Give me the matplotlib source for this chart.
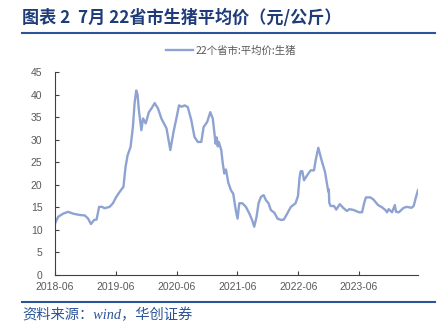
import matplotlib
matplotlib.use("Agg")
import matplotlib.pyplot as plt
import pandas as pd

plt.rcParams['font.family'] = ['Liberation Sans', 'Noto Sans CJK SC']

# 22个省市:平均价:生猪 (元/公斤)
dates = [
    "2018-06-01", "2018-06-20", "2018-07-20", "2018-08-19", "2018-09-18", "2018-10-28",
    "2018-11-27", "2018-12-17", "2019-01-03", "2019-01-22", "2019-02-06", "2019-02-21",
    "2019-03-12", "2019-03-25", "2019-04-25", "2019-05-15", "2019-06-04", "2019-06-24",
    "2019-07-12", "2019-07-17", "2019-07-30", "2019-08-11", "2019-08-29", "2019-09-12",
    "2019-09-22", "2019-10-02", "2019-10-10", "2019-10-18", "2019-11-02", "2019-11-12",
    "2019-11-28", "2019-12-17", "2020-01-03", "2020-01-21", "2020-02-10", "2020-03-01",
    "2020-04-01", "2020-04-13", "2020-04-24", "2020-05-13", "2020-06-01", "2020-06-15",
    "2020-07-01", "2020-07-19", "2020-08-07", "2020-08-28", "2020-09-16", "2020-10-06",
    "2020-10-27", "2020-11-10", "2020-12-01", "2020-12-20", "2021-01-04", "2021-01-21",
    "2021-01-28", "2021-02-03", "2021-02-09", "2021-02-24", "2021-03-04", "2021-03-14",
    "2021-03-24", "2021-04-07", "2021-04-23", "2021-05-07", "2021-05-22", "2021-06-02",
    "2021-06-12", "2021-07-01", "2021-07-22", "2021-08-12", "2021-08-28", "2021-09-10",
    "2021-09-24", "2021-10-06", "2021-10-20", "2021-11-06", "2021-11-19", "2021-12-05",
    "2021-12-19", "2022-01-09", "2022-01-28", "2022-02-18", "2022-03-07", "2022-03-27",
    "2022-04-18", "2022-05-16", "2022-05-31", "2022-06-09", "2022-06-16", "2022-06-26",
    "2022-07-06", "2022-07-25", "2022-08-15", "2022-09-04", "2022-09-14", "2022-09-30",
    "2022-10-20", "2022-11-09", "2022-11-23", "2022-11-29", "2022-12-02", "2022-12-05",
    "2022-12-13", "2023-01-02", "2023-01-16", "2023-02-06", "2023-03-01", "2023-03-21",
    "2023-04-05", "2023-05-01", "2023-06-01", "2023-06-20", "2023-07-03", "2023-07-13",
    "2023-08-09", "2023-08-28", "2023-09-24", "2023-10-18", "2023-11-07", "2023-11-17",
    "2023-11-27", "2023-12-17", "2024-01-03", "2024-01-10", "2024-01-27", "2024-02-25",
    "2024-03-15", "2024-04-12", "2024-04-25", "2024-05-09", "2024-05-21",
]
prices = [
    11.4, 12.9, 13.6, 14.0, 13.6, 13.3,
    13.2, 12.5, 11.3, 12.2, 12.3, 15.1,
    15.1, 14.8, 15.1, 15.9, 17.3, 18.4,
    19.3, 19.5, 24.0, 26.5, 28.4, 32.8,
    38.0, 40.9, 40.0, 36.5, 32.1, 34.7,
    33.6, 36.1, 37.0, 38.1, 36.9, 34.7,
    32.5, 30.0, 27.7, 31.7, 35.0, 37.6,
    37.3, 37.6, 37.2, 34.3, 30.6, 29.5,
    29.5, 32.8, 33.9, 36.1, 34.7, 29.1,
    30.5, 28.5, 29.5, 27.7, 25.0, 22.5,
    23.4, 20.5, 18.8, 18.0, 14.4, 12.5,
    15.9, 15.9, 15.1, 13.6, 12.2, 10.7,
    12.9, 15.9, 17.3, 17.7, 16.6, 15.9,
    14.4, 13.8, 12.5, 12.2, 12.3, 13.6,
    15.1, 15.9, 17.5, 21.5, 23.0, 23.0,
    21.0, 22.1, 23.2, 23.2, 25.4, 28.2,
    25.4, 22.9, 19.9, 18.5, 19.0, 16.0,
    15.3, 15.3, 14.5, 15.7, 14.8, 14.2,
    14.6, 14.4, 13.9, 13.9, 16.0, 17.2,
    17.2, 16.7, 15.5, 15.0, 14.4, 13.9,
    14.6, 13.9, 15.5, 14.0, 13.9, 14.9,
    15.1, 14.9, 15.3, 17.3, 18.8,
]
tick_labels = ["2018-06", "2019-06", "2020-06", "2021-06", "2022-06", "2023-06"]
y_ticks = [0, 5, 10, 15, 20, 25, 30, 35, 40, 45]

title = "图表 2  7月 22省市生猪平均价（元/公斤）"
series_name = "22个省市:平均价:生猪"
source = "资料来源：wind，华创证券"

line_color = "#8EA3D1"
navy = "#1F3C78"
rule_blue = "#2B5596"
grey = "#595959"

x = pd.to_datetime(dates)

fig = plt.figure(figsize=(4.41, 3.33), dpi=100)
ax = fig.add_axes([55 / 441, 1 - 275 / 333, (418 - 55) / 441, (275 - 72) / 333])

ax.plot(x, prices, color=line_color, lw=1.7, label=series_name)

ax.set_ylim(0, 45)
ax.set_yticks(y_ticks)
ax.set_xlim(pd.Timestamp("2018-06-01"), pd.Timestamp("2024-05-21"))
ax.set_xticks(pd.to_datetime([t + "-01" for t in tick_labels]))
ax.set_xticklabels(tick_labels)

for s in ["top", "right"]:
    ax.spines[s].set_visible(False)
for s in ["left", "bottom"]:
    ax.spines[s].set_color("#404040")
    ax.spines[s].set_linewidth(0.8)
ax.tick_params(axis="both", direction="in", length=3, width=0.8, color="#404040",
               labelsize=7.5, labelcolor=grey)
ax.tick_params(axis="y", pad=9)
ax.tick_params(axis="x", pad=5)

fig.legend(loc="center", bbox_to_anchor=(231 / 441, 1 - 51 / 333), frameon=False,
           labelcolor=grey, handlelength=2.6, handletextpad=0.2,
           prop={'family': ['Noto Sans CJK SC', 'DejaVu Sans'], 'size': 7.5})

fig.text(22 / 441, 1 - 18 / 333, title, fontsize=12.3, fontweight="bold", color=navy,
         va="center", ha="left", family=['Noto Sans CJK SC', 'DejaVu Sans'])

fig.add_artist(plt.Line2D([22 / 441, 435 / 441], [1 - 33 / 333, 1 - 33 / 333],
                          color=rule_blue, lw=1.5))
fig.add_artist(plt.Line2D([22 / 441, 435 / 441], [1 - 302 / 333, 1 - 302 / 333],
                          color=rule_blue, lw=1.5))

fig.text(22 / 441, 1 - 315 / 333, source, fontsize=10.3, color=rule_blue, style="italic",
         va="center", ha="left", family=['Liberation Serif', 'Noto Sans CJK SC'])

fig.savefig("out.png", dpi=100)
